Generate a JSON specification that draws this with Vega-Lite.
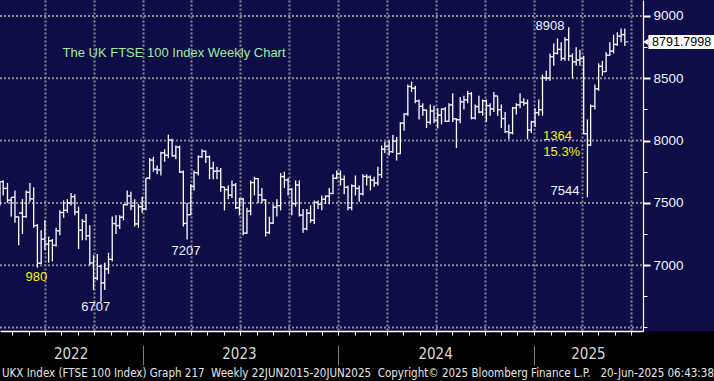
{
  "$schema": "https://vega.github.io/schema/vega-lite/v6.json",
  "width": 714,
  "height": 331,
  "autosize": {"type": "none"},
  "padding": {"left": 0, "top": 0, "right": 0, "bottom": 50},
  "background": "#000000",
  "config": {"view": {"fill": "#0f0d48", "stroke": null}, "font": "Liberation Sans"},
  "title": {
    "text": "UKX Index (FTSE 100 Index) Graph 217\u00a0 Weekly 22JUN2015-20JUN2025\u00a0 Copyright\u00a9 2025 Bloomberg Finance L.P.\u00a0\u00a0 20-Jun-2025 06:43:38",
    "orient": "bottom", "anchor": "start", "frame": "group", "offset": 2, "dx": 2,
    "font": "Liberation Sans Narrow, DejaVu Sans Condensed, sans-serif",
    "fontSize": 11.5, "fontWeight": "normal", "color": "#e6e6e6"
  },
  "datasets": {
    "levels": [{"v": 6500}, {"v": 7000}, {"v": 7500}, {"v": 8000}, {"v": 8500}, {"v": 9000}],
    "last": [{"price": 8791.7998, "label": "8791.7998"}],
    "yellowNotes": [
      {"label": "980", "date": "2022-06-15", "value": 6905},
      {"label": "1364", "date": "2025-02-14", "value": 8039},
      {"label": "15.3%", "date": "2025-02-22", "value": 7911}
    ],
    "whiteNotes": [
      {"label": "6707", "date": "2022-10-04", "value": 6664},
      {"label": "7207", "date": "2023-03-22", "value": 7114},
      {"label": "8908", "date": "2025-01-31", "value": 8922},
      {"label": "7544", "date": "2025-02-28", "value": 7593}
    ],
    "heading": [{"label": "The UK FTSE 100 Index Weekly Chart", "date": "2022-08-03", "value": 8703}],
    "ohlc": [
      {"date":"2022-04-08","open":7538,"high":7672,"low":7480,"close":7670},
      {"date":"2022-04-14","open":7670,"high":7681,"low":7560,"close":7616},
      {"date":"2022-04-22","open":7616,"high":7660,"low":7500,"close":7522},
      {"date":"2022-04-29","open":7522,"high":7545,"low":7390,"close":7545},
      {"date":"2022-05-06","open":7545,"high":7600,"low":7340,"close":7388},
      {"date":"2022-05-13","open":7388,"high":7390,"low":7160,"close":7418},
      {"date":"2022-05-20","open":7418,"high":7530,"low":7250,"close":7390},
      {"date":"2022-05-27","open":7390,"high":7600,"low":7380,"close":7585},
      {"date":"2022-06-03","open":7585,"high":7660,"low":7510,"close":7533},
      {"date":"2022-06-10","open":7533,"high":7625,"low":7300,"close":7318},
      {"date":"2022-06-17","open":7318,"high":7330,"low":6980,"close":7016},
      {"date":"2022-06-24","open":7016,"high":7280,"low":7010,"close":7209},
      {"date":"2022-07-01","open":7209,"high":7360,"low":7120,"close":7169},
      {"date":"2022-07-08","open":7169,"high":7230,"low":7020,"close":7196},
      {"date":"2022-07-15","open":7196,"high":7210,"low":7030,"close":7159},
      {"date":"2022-07-22","open":7159,"high":7300,"low":7150,"close":7276},
      {"date":"2022-07-29","open":7276,"high":7440,"low":7240,"close":7423},
      {"date":"2022-08-05","open":7423,"high":7520,"low":7380,"close":7440},
      {"date":"2022-08-12","open":7440,"high":7530,"low":7420,"close":7501},
      {"date":"2022-08-19","open":7501,"high":7580,"low":7480,"close":7550},
      {"date":"2022-08-26","open":7550,"high":7570,"low":7400,"close":7427},
      {"date":"2022-09-02","open":7427,"high":7470,"low":7130,"close":7281},
      {"date":"2022-09-09","open":7281,"high":7370,"low":7200,"close":7351},
      {"date":"2022-09-16","open":7351,"high":7410,"low":7200,"close":7236},
      {"date":"2022-09-23","open":7236,"high":7320,"low":7000,"close":7019},
      {"date":"2022-09-30","open":7019,"high":7080,"low":6800,"close":6894},
      {"date":"2022-10-07","open":6894,"high":7090,"low":6880,"close":6991},
      {"date":"2022-10-14","open":6991,"high":7000,"low":6707,"close":6858},
      {"date":"2022-10-21","open":6858,"high":7020,"low":6800,"close":6970},
      {"date":"2022-10-28","open":6970,"high":7100,"low":6930,"close":7047},
      {"date":"2022-11-04","open":7047,"high":7390,"low":7030,"close":7334},
      {"date":"2022-11-11","open":7334,"high":7400,"low":7250,"close":7318},
      {"date":"2022-11-18","open":7318,"high":7400,"low":7290,"close":7385},
      {"date":"2022-11-25","open":7385,"high":7490,"low":7360,"close":7486},
      {"date":"2022-12-02","open":7486,"high":7600,"low":7480,"close":7556},
      {"date":"2022-12-09","open":7556,"high":7590,"low":7440,"close":7476},
      {"date":"2022-12-16","open":7476,"high":7530,"low":7310,"close":7332},
      {"date":"2022-12-23","open":7332,"high":7490,"low":7300,"close":7469},
      {"date":"2022-12-30","open":7469,"high":7550,"low":7420,"close":7452},
      {"date":"2023-01-06","open":7452,"high":7700,"low":7440,"close":7699},
      {"date":"2023-01-13","open":7699,"high":7860,"low":7690,"close":7844},
      {"date":"2023-01-20","open":7844,"high":7870,"low":7750,"close":7770},
      {"date":"2023-01-27","open":7770,"high":7800,"low":7730,"close":7765},
      {"date":"2023-02-03","open":7765,"high":7910,"low":7720,"close":7902},
      {"date":"2023-02-10","open":7902,"high":7930,"low":7830,"close":7882},
      {"date":"2023-02-17","open":7882,"high":8047,"low":7860,"close":8004},
      {"date":"2023-02-24","open":8004,"high":8015,"low":7870,"close":7878},
      {"date":"2023-03-03","open":7878,"high":7960,"low":7850,"close":7947},
      {"date":"2023-03-10","open":7947,"high":7960,"low":7740,"close":7748},
      {"date":"2023-03-17","open":7748,"high":7760,"low":7310,"close":7335},
      {"date":"2023-03-24","open":7335,"high":7500,"low":7207,"close":7405},
      {"date":"2023-03-31","open":7405,"high":7650,"low":7400,"close":7632},
      {"date":"2023-04-06","open":7632,"high":7760,"low":7600,"close":7742},
      {"date":"2023-04-14","open":7742,"high":7880,"low":7720,"close":7871},
      {"date":"2023-04-21","open":7871,"high":7930,"low":7860,"close":7914},
      {"date":"2023-04-28","open":7914,"high":7920,"low":7820,"close":7870},
      {"date":"2023-05-05","open":7870,"high":7880,"low":7690,"close":7778},
      {"date":"2023-05-12","open":7778,"high":7830,"low":7690,"close":7754},
      {"date":"2023-05-19","open":7754,"high":7790,"low":7690,"close":7756},
      {"date":"2023-05-26","open":7756,"high":7780,"low":7590,"close":7627},
      {"date":"2023-06-02","open":7627,"high":7630,"low":7440,"close":7607},
      {"date":"2023-06-09","open":7607,"high":7640,"low":7530,"close":7562},
      {"date":"2023-06-16","open":7562,"high":7680,"low":7540,"close":7643},
      {"date":"2023-06-23","open":7643,"high":7660,"low":7450,"close":7461},
      {"date":"2023-06-30","open":7461,"high":7540,"low":7400,"close":7531},
      {"date":"2023-07-07","open":7531,"high":7540,"low":7240,"close":7257},
      {"date":"2023-07-14","open":7257,"high":7460,"low":7250,"close":7434},
      {"date":"2023-07-21","open":7434,"high":7680,"low":7400,"close":7663},
      {"date":"2023-07-28","open":7663,"high":7710,"low":7560,"close":7694},
      {"date":"2023-08-04","open":7694,"high":7700,"low":7500,"close":7564},
      {"date":"2023-08-11","open":7564,"high":7620,"low":7500,"close":7524},
      {"date":"2023-08-18","open":7524,"high":7530,"low":7230,"close":7262},
      {"date":"2023-08-25","open":7262,"high":7390,"low":7250,"close":7338},
      {"date":"2023-09-01","open":7338,"high":7490,"low":7330,"close":7465},
      {"date":"2023-09-08","open":7465,"high":7530,"low":7390,"close":7478},
      {"date":"2023-09-15","open":7478,"high":7740,"low":7440,"close":7711},
      {"date":"2023-09-22","open":7711,"high":7750,"low":7620,"close":7684},
      {"date":"2023-09-29","open":7684,"high":7700,"low":7560,"close":7608},
      {"date":"2023-10-06","open":7608,"high":7620,"low":7400,"close":7494},
      {"date":"2023-10-13","open":7494,"high":7680,"low":7470,"close":7644},
      {"date":"2023-10-20","open":7644,"high":7680,"low":7390,"close":7402},
      {"date":"2023-10-27","open":7402,"high":7450,"low":7260,"close":7292},
      {"date":"2023-11-03","open":7292,"high":7450,"low":7280,"close":7417},
      {"date":"2023-11-10","open":7417,"high":7480,"low":7340,"close":7360},
      {"date":"2023-11-17","open":7360,"high":7520,"low":7330,"close":7504},
      {"date":"2023-11-24","open":7504,"high":7520,"low":7450,"close":7488},
      {"date":"2023-12-01","open":7488,"high":7560,"low":7440,"close":7529},
      {"date":"2023-12-08","open":7529,"high":7560,"low":7490,"close":7554},
      {"date":"2023-12-15","open":7554,"high":7620,"low":7490,"close":7576},
      {"date":"2023-12-22","open":7576,"high":7730,"low":7570,"close":7698},
      {"date":"2023-12-29","open":7698,"high":7760,"low":7690,"close":7733},
      {"date":"2024-01-05","open":7733,"high":7760,"low":7640,"close":7689},
      {"date":"2024-01-12","open":7689,"high":7720,"low":7570,"close":7625},
      {"date":"2024-01-19","open":7625,"high":7640,"low":7440,"close":7462},
      {"date":"2024-01-26","open":7462,"high":7650,"low":7440,"close":7636},
      {"date":"2024-02-02","open":7636,"high":7720,"low":7560,"close":7616},
      {"date":"2024-02-09","open":7616,"high":7640,"low":7510,"close":7573},
      {"date":"2024-02-16","open":7573,"high":7730,"low":7560,"close":7712},
      {"date":"2024-02-23","open":7712,"high":7730,"low":7640,"close":7707},
      {"date":"2024-03-01","open":7707,"high":7720,"low":7600,"close":7682},
      {"date":"2024-03-08","open":7682,"high":7710,"low":7630,"close":7660},
      {"date":"2024-03-15","open":7660,"high":7790,"low":7640,"close":7727},
      {"date":"2024-03-22","open":7727,"high":7960,"low":7700,"close":7931},
      {"date":"2024-03-28","open":7931,"high":7990,"low":7900,"close":7953},
      {"date":"2024-04-05","open":7953,"high":8000,"low":7880,"close":7911},
      {"date":"2024-04-12","open":7911,"high":8045,"low":7900,"close":7996},
      {"date":"2024-04-19","open":7996,"high":8030,"low":7840,"close":7896},
      {"date":"2024-04-26","open":7896,"high":8150,"low":7890,"close":8140},
      {"date":"2024-05-03","open":8140,"high":8220,"low":8080,"close":8213},
      {"date":"2024-05-10","open":8213,"high":8450,"low":8200,"close":8434},
      {"date":"2024-05-17","open":8434,"high":8474,"low":8390,"close":8420},
      {"date":"2024-05-24","open":8420,"high":8440,"low":8300,"close":8318},
      {"date":"2024-05-31","open":8318,"high":8330,"low":8170,"close":8275},
      {"date":"2024-06-07","open":8275,"high":8300,"low":8200,"close":8245},
      {"date":"2024-06-14","open":8245,"high":8250,"low":8100,"close":8147},
      {"date":"2024-06-21","open":8147,"high":8290,"low":8130,"close":8238},
      {"date":"2024-06-28","open":8238,"high":8280,"low":8140,"close":8164},
      {"date":"2024-07-05","open":8164,"high":8260,"low":8100,"close":8204},
      {"date":"2024-07-12","open":8204,"high":8260,"low":8130,"close":8253},
      {"date":"2024-07-19","open":8253,"high":8270,"low":8150,"close":8155},
      {"date":"2024-07-26","open":8155,"high":8300,"low":8150,"close":8286},
      {"date":"2024-08-02","open":8286,"high":8380,"low":8150,"close":8175},
      {"date":"2024-08-09","open":8175,"high":8180,"low":7940,"close":8168},
      {"date":"2024-08-16","open":8168,"high":8350,"low":8140,"close":8311},
      {"date":"2024-08-23","open":8311,"high":8360,"low":8250,"close":8327},
      {"date":"2024-08-30","open":8327,"high":8400,"low":8300,"close":8377},
      {"date":"2024-09-06","open":8377,"high":8390,"low":8170,"close":8181},
      {"date":"2024-09-13","open":8181,"high":8290,"low":8170,"close":8273},
      {"date":"2024-09-20","open":8273,"high":8360,"low":8220,"close":8229},
      {"date":"2024-09-27","open":8229,"high":8330,"low":8200,"close":8320},
      {"date":"2024-10-04","open":8320,"high":8330,"low":8150,"close":8281},
      {"date":"2024-10-11","open":8281,"high":8300,"low":8200,"close":8254},
      {"date":"2024-10-18","open":8254,"high":8390,"low":8230,"close":8358},
      {"date":"2024-10-25","open":8358,"high":8360,"low":8200,"close":8248},
      {"date":"2024-11-01","open":8248,"high":8290,"low":8100,"close":8177},
      {"date":"2024-11-08","open":8177,"high":8230,"low":8060,"close":8072},
      {"date":"2024-11-15","open":8072,"high":8130,"low":8010,"close":8063},
      {"date":"2024-11-22","open":8063,"high":8270,"low":8050,"close":8262},
      {"date":"2024-11-29","open":8262,"high":8300,"low":8210,"close":8287},
      {"date":"2024-12-06","open":8287,"high":8380,"low":8260,"close":8308},
      {"date":"2024-12-13","open":8308,"high":8340,"low":8280,"close":8300},
      {"date":"2024-12-20","open":8300,"high":8330,"low":8010,"close":8085},
      {"date":"2024-12-27","open":8085,"high":8160,"low":8060,"close":8150},
      {"date":"2025-01-03","open":8150,"high":8260,"low":8110,"close":8224},
      {"date":"2025-01-10","open":8224,"high":8330,"low":8200,"close":8248},
      {"date":"2025-01-17","open":8248,"high":8530,"low":8200,"close":8505},
      {"date":"2025-01-24","open":8505,"high":8560,"low":8480,"close":8502},
      {"date":"2025-01-31","open":8502,"high":8700,"low":8480,"close":8674},
      {"date":"2025-02-07","open":8674,"high":8780,"low":8600,"close":8700},
      {"date":"2025-02-14","open":8700,"high":8820,"low":8690,"close":8732},
      {"date":"2025-02-21","open":8732,"high":8790,"low":8640,"close":8659},
      {"date":"2025-02-28","open":8659,"high":8830,"low":8640,"close":8810},
      {"date":"2025-03-07","open":8810,"high":8909,"low":8640,"close":8679},
      {"date":"2025-03-14","open":8679,"high":8700,"low":8500,"close":8632},
      {"date":"2025-03-21","open":8632,"high":8750,"low":8600,"close":8647},
      {"date":"2025-03-28","open":8647,"high":8730,"low":8600,"close":8659},
      {"date":"2025-04-04","open":8659,"high":8680,"low":8050,"close":8055},
      {"date":"2025-04-11","open":8055,"high":8170,"low":7544,"close":7964},
      {"date":"2025-04-17","open":7964,"high":8290,"low":7960,"close":8276},
      {"date":"2025-04-25","open":8276,"high":8450,"low":8250,"close":8415},
      {"date":"2025-05-02","open":8415,"high":8620,"low":8400,"close":8596},
      {"date":"2025-05-09","open":8596,"high":8640,"low":8520,"close":8554},
      {"date":"2025-05-16","open":8554,"high":8710,"low":8550,"close":8685},
      {"date":"2025-05-23","open":8685,"high":8790,"low":8680,"close":8718},
      {"date":"2025-05-30","open":8718,"high":8850,"low":8700,"close":8772},
      {"date":"2025-06-06","open":8772,"high":8870,"low":8760,"close":8838},
      {"date":"2025-06-13","open":8838,"high":8900,"low":8790,"close":8851},
      {"date":"2025-06-20","open":8851,"high":8900,"low":8760,"close":8792}
    ]
  },
  "resolve": {"axis": {"x": "independent", "y": "independent"}},
  "layer": [
    {
      "data": {"name": "levels"},
      "mark": {"type": "rule", "stroke": "#8a8a94", "strokeWidth": 2, "strokeDash": [2, 2]},
      "encoding": {
        "y": {"field": "v", "type": "quantitative", "scale": {"domain": [6471.8, 9128.4], "nice": false, "zero": false}, "axis": null},
        "x": {"datum": {"year": 2022, "month": 4, "date": 8}, "type": "temporal", "scale": {"domain": [{"year": 2022, "month": 4, "date": 8}, {"year": 2025, "month": 7, "date": 24}], "range": [0, 643]}, "axis": null},
        "x2": {"datum": {"year": 2025, "month": 7, "date": 24}}
      }
    },
    {
      "data": {"name": "ohlc"},
      "mark": {"type": "rule", "color": "#ffffff", "strokeWidth": 1.3},
      "encoding": {
        "x": {"field": "date", "type": "temporal",
          "scale": {"domain": [{"year": 2022, "month": 4, "date": 8}, {"year": 2025, "month": 7, "date": 24}], "range": [0, 643]},
          "axis": {"orient": "bottom", "title": null, "grid": false, "labels": false, "domain": true, "domainColor": "#ffffff", "domainWidth": 1.5,
            "ticks": true, "tickSize": 4, "tickColor": "#ffffff", "tickWidth": 1,
            "values": [
              {"year":2022,"month":5,"date":1},{"year":2022,"month":6,"date":1},{"year":2022,"month":7,"date":1},{"year":2022,"month":8,"date":1},
              {"year":2022,"month":9,"date":1},{"year":2022,"month":10,"date":1},{"year":2022,"month":11,"date":1},{"year":2022,"month":12,"date":1},
              {"year":2023,"month":1,"date":1},{"year":2023,"month":2,"date":1},{"year":2023,"month":3,"date":1},{"year":2023,"month":4,"date":1},
              {"year":2023,"month":5,"date":1},{"year":2023,"month":6,"date":1},{"year":2023,"month":7,"date":1},{"year":2023,"month":8,"date":1},
              {"year":2023,"month":9,"date":1},{"year":2023,"month":10,"date":1},{"year":2023,"month":11,"date":1},{"year":2023,"month":12,"date":1},
              {"year":2024,"month":1,"date":1},{"year":2024,"month":2,"date":1},{"year":2024,"month":3,"date":1},{"year":2024,"month":4,"date":1},
              {"year":2024,"month":5,"date":1},{"year":2024,"month":6,"date":1},{"year":2024,"month":7,"date":1},{"year":2024,"month":8,"date":1},
              {"year":2024,"month":9,"date":1},{"year":2024,"month":10,"date":1},{"year":2024,"month":11,"date":1},{"year":2024,"month":12,"date":1},
              {"year":2025,"month":1,"date":1},{"year":2025,"month":2,"date":1},{"year":2025,"month":3,"date":1},{"year":2025,"month":4,"date":1},
              {"year":2025,"month":5,"date":1},{"year":2025,"month":6,"date":1},{"year":2025,"month":7,"date":1}
            ]}},
        "y": {"field": "low", "type": "quantitative", "scale": {"domain": [6471.8, 9128.4], "nice": false, "zero": false},
          "axis": {"orient": "right", "offset": -71, "title": null, "grid": false, "values": [7000, 7500, 8000, 8500, 9000], "format": "d",
            "ticks": true, "tickSize": 7, "tickWidth": 2, "tickColor": "#ffffff", "labelPadding": 3, "labelFont": "Liberation Sans", "labelFontSize": 13.5,
            "labelColor": "#eef2ff", "domain": true, "domainColor": "#ffffff", "domainWidth": 1.2}},
        "y2": {"field": "high"}
      }
    },
    {
      "data": {"name": "ohlc"},
      "mark": {"type": "tick", "orient": "horizontal", "size": 3, "thickness": 1.3, "xOffset": -2, "color": "#ffffff", "clip": true},
      "encoding": {
        "x": {"field": "date", "type": "temporal",
          "axis": {"orient": "bottom", "title": null, "grid": true, "gridColor": "#8a8a94", "gridWidth": 2, "gridDash": [2, 2],
            "ticks": false, "labels": false, "domain": false,
            "values": [
              {"year":2022,"month":7,"date":1},{"year":2022,"month":10,"date":1},{"year":2023,"month":1,"date":1},{"year":2023,"month":4,"date":1},
              {"year":2023,"month":7,"date":1},{"year":2023,"month":10,"date":1},{"year":2024,"month":1,"date":1},{"year":2024,"month":4,"date":1},
              {"year":2024,"month":7,"date":1},{"year":2024,"month":10,"date":1},{"year":2025,"month":1,"date":1},{"year":2025,"month":4,"date":1},
              {"year":2025,"month":7,"date":1}
            ]}},
        "y": {"field": "open", "type": "quantitative",
          "axis": {"orient": "right", "offset": -71, "title": null, "grid": false, "labels": false, "domain": false,
            "ticks": true, "tickSize": 4, "tickColor": "#ffffff", "tickWidth": 1, "values": [6500, 6750, 7250, 7750, 8250, 8750]}}
      }
    },
    {
      "data": {"name": "ohlc"},
      "mark": {"type": "tick", "orient": "horizontal", "size": 3, "thickness": 1.3, "xOffset": 2, "color": "#ffffff"},
      "encoding": {
        "x": {"field": "date", "type": "temporal",
          "axis": {"orient": "bottom", "title": null, "grid": false, "ticks": false, "domain": false, "format": "%Y",
            "labelPadding": 15, "labelFont": "Liberation Sans Narrow, DejaVu Sans Condensed, sans-serif", "labelFontSize": 15,
            "labelColor": "#d8d8d8", "labelFlush": false, "labelOverlap": false,
            "values": [{"year":2022,"month":8,"date":18},{"year":2023,"month":6,"date":29},{"year":2024,"month":6,"date":30},{"year":2025,"month":4,"date":12}]}},
        "y": {"field": "close", "type": "quantitative", "axis": null}
      }
    },
    {
      "data": {"name": "whiteNotes"},
      "mark": {"type": "text", "font": "Liberation Sans", "fontSize": 13, "color": "#eef2ff", "align": "center", "baseline": "middle"},
      "encoding": {
        "x": {"field": "date", "type": "temporal",
          "axis": {"orient": "bottom", "title": null, "grid": false, "labels": false, "domain": false, "offset": 14,
            "ticks": true, "tickSize": 20, "tickColor": "#7c7c7c", "tickWidth": 1,
            "values": [{"year":2023,"month":1,"date":1},{"year":2024,"month":1,"date":1},{"year":2025,"month":1,"date":1}]}},
        "y": {"field": "value", "type": "quantitative", "axis": null},
        "text": {"field": "label"}
      }
    },
    {
      "data": {"name": "yellowNotes"},
      "mark": {"type": "text", "font": "Liberation Sans", "fontSize": 13, "color": "#f2f200", "align": "center", "baseline": "middle"},
      "encoding": {
        "x": {"field": "date", "type": "temporal", "axis": null},
        "y": {"field": "value", "type": "quantitative", "axis": null},
        "text": {"field": "label"}
      }
    },
    {
      "data": {"name": "heading"},
      "mark": {"type": "text", "font": "Liberation Sans", "fontSize": 13, "color": "#9eea9e", "align": "left", "baseline": "middle"},
      "encoding": {
        "x": {"field": "date", "type": "temporal", "axis": null},
        "y": {"field": "value", "type": "quantitative", "axis": null},
        "text": {"field": "label"}
      }
    },
    {
      "mark": {"type": "rect", "fill": null, "stroke": "#ffffff", "strokeWidth": 1.2},
      "encoding": {
        "x": {"datum": {"year": 2024, "month": 9, "date": 3}, "type": "temporal", "axis": null},
        "x2": {"datum": {"year": 2025, "month": 6, "date": 26}},
        "y": {"datum": 6793, "type": "quantitative", "axis": null},
        "y2": {"datum": 6646}
      }
    },
    {
      "mark": {"type": "text", "font": "Liberation Sans", "fontSize": 12.5, "color": "#2fd3e3", "align": "center", "baseline": "middle"},
      "encoding": {
        "x": {"datum": {"year": 2025, "month": 1, "date": 29}, "type": "temporal", "axis": null},
        "y": {"datum": 6721, "type": "quantitative", "axis": null},
        "text": {"value": "www.marketmatters.com.au"}
      }
    },
    {
      "data": {"name": "last"},
      "mark": {"type": "rule", "color": "#ffffff", "strokeWidth": 14, "strokeCap": "butt"},
      "encoding": {
        "x": {"datum": {"year": 2025, "month": 8, "date": 3}, "type": "temporal", "axis": null},
        "x2": {"datum": {"year": 2025, "month": 12, "date": 10}},
        "y": {"field": "price", "type": "quantitative", "axis": null}
      }
    },
    {
      "data": {"name": "last"},
      "mark": {"type": "point", "shape": "triangle-left", "filled": true, "size": 40, "color": "#ffffff", "opacity": 1, "strokeWidth": 0},
      "encoding": {
        "x": {"datum": {"year": 2025, "month": 7, "date": 29}, "type": "temporal", "axis": null},
        "y": {"field": "price", "type": "quantitative", "axis": null}
      }
    },
    {
      "data": {"name": "last"},
      "mark": {"type": "text", "font": "Liberation Sans", "fontSize": 12.5, "color": "#000000", "align": "left", "baseline": "middle"},
      "encoding": {
        "x": {"datum": {"year": 2025, "month": 8, "date": 10}, "type": "temporal", "axis": null},
        "y": {"field": "price", "type": "quantitative", "axis": null},
        "text": {"field": "label"}
      }
    }
  ]
}
